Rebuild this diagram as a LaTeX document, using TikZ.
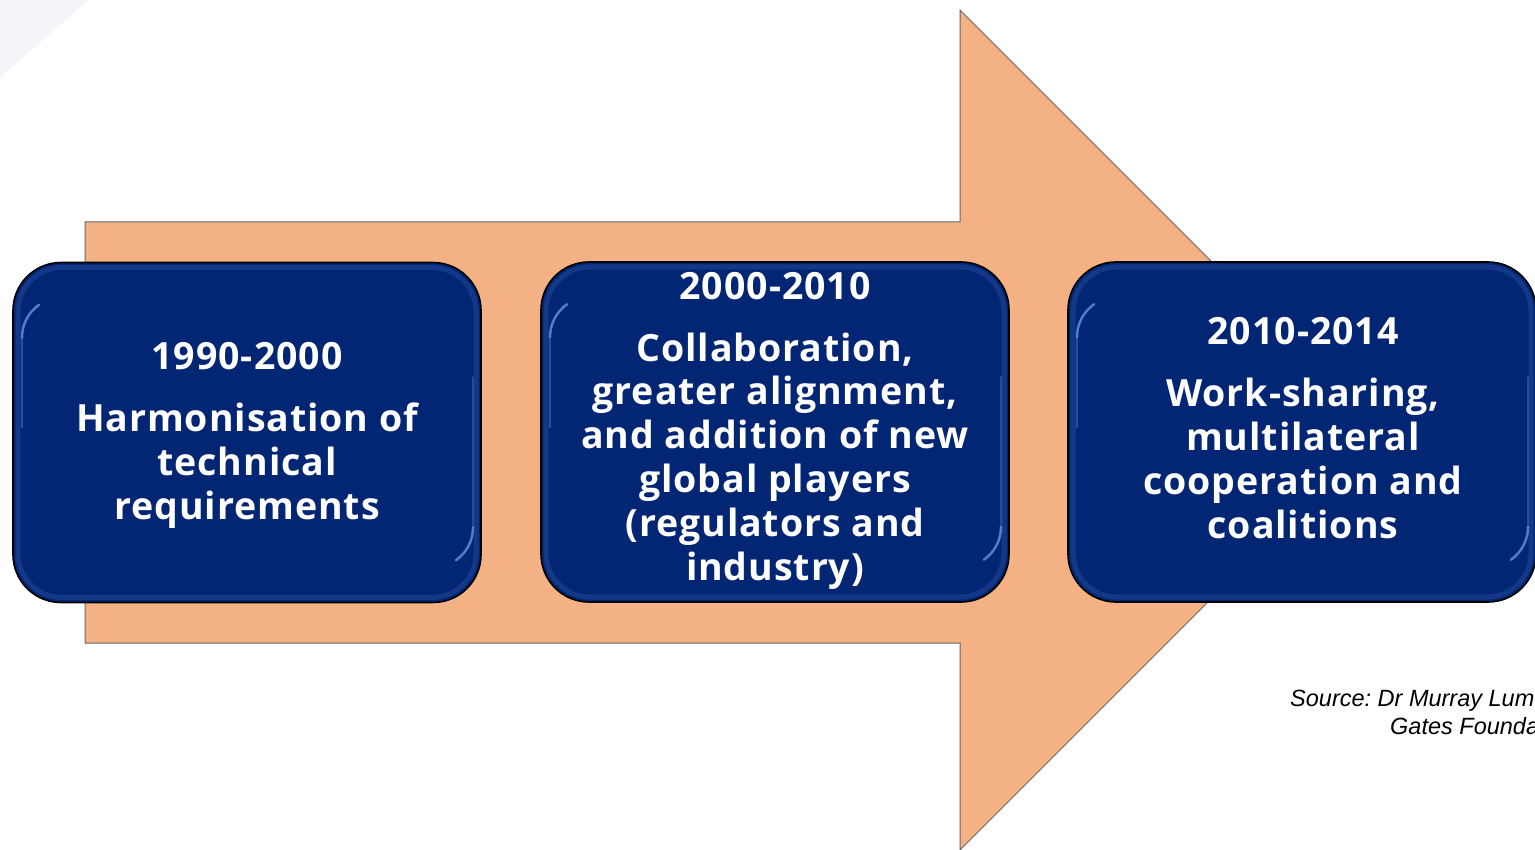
\documentclass[tikz,border=0pt]{standalone}
\usepackage{fontspec}
\newfontfamily\boxfont{Open Sans}[LetterSpace=2.5]
\newfontfamily\srcfont{Liberation Sans}
\definecolor{navy}{RGB}{2,37,116}
\definecolor{peach}{RGB}{244,178,132}
\definecolor{bevelblue}{RGB}{60,100,185}
\definecolor{hilite}{RGB}{120,160,235}
\definecolor{faint}{RGB}{243,245,249}
\tikzset{
  arrowshape/.style={fill=peach, draw=gray!80!black, line width=1pt},
  box/.style={draw=black, line width=1.6pt, fill=navy, rounded corners=48pt,
    minimum width=468pt, minimum height=340pt, inner sep=0pt,
    path picture={
      \draw[bevelblue, line width=5pt, opacity=0.3, rounded corners=44pt]
        ([shift={(5pt,5pt)}]path picture bounding box.south west) rectangle
        ([shift={(-5pt,-5pt)}]path picture bounding box.north east);
      \draw[hilite, line width=2.5pt, opacity=0.7, line cap=round]
        ([shift={(9pt,-75pt)}]path picture bounding box.north west) arc[start angle=180, end angle=125, radius=40pt];
      \draw[hilite, line width=2.5pt, opacity=0.35, line cap=round]
        ([shift={(9pt,-75pt)}]path picture bounding box.north west) -- ++(0,-90pt);
      \draw[hilite, line width=2.5pt, opacity=0.7, line cap=round]
        ([shift={(-8pt,75pt)}]path picture bounding box.south east) arc[start angle=0, end angle=-55, radius=40pt];
      \draw[hilite, line width=2.5pt, opacity=0.3, line cap=round]
        ([shift={(-8pt,75pt)}]path picture bounding box.south east) -- ++(0,150pt);
    }},
  boxtext/.style={text=white, font=\boxfont\bfseries\fontsize{37.5}{43.8}\selectfont, align=center, anchor=base, inner sep=0pt},
  srctext/.style={font=\srcfont\itshape\fontsize{23.5}{28}\selectfont, anchor=base west, inner sep=0pt}
}
\begin{document}
\begin{tikzpicture}[x=1pt,y=-1pt]
\frenchspacing
\useasboundingbox (0,0) rectangle (1535,850);
\clip (0,0) rectangle (1535,850);
\fill[faint] (0,0) -- (88,0) .. controls (55,30) and (25,55) .. (0,78) -- cycle;
\draw[arrowshape] (85,222) -- (960,222) -- (960,10) -- (1380,430) -- (960,850) -- (960,643) -- (85,643) -- cycle;
\node[box] (b1) at (247,432.5) {};
\node[box] (b2) at (775,432) {};
\node[box] (b3) at (1302,432) {};
\node[boxtext] (t1) at (247,519) {1990-2000\\[18pt]Harmonisation of\\technical\\requirements};
\node[boxtext] (t2) at (775,580) {2000-2010\\[18pt]Collaboration,\\greater alignment,\\and addition of new\\global players\\(regulators and\\industry)};
\node[boxtext] (t3) at (1303,538) {2010-2014\\[18pt]Work-sharing,\\multilateral\\cooperation and\\coalitions};
\node[srctext] (s1) at (1290,706) {Source: Dr Murray Lum};
\node[srctext] (s2) at (1390,734) {Gates Founda};
\end{tikzpicture}
\end{document}
